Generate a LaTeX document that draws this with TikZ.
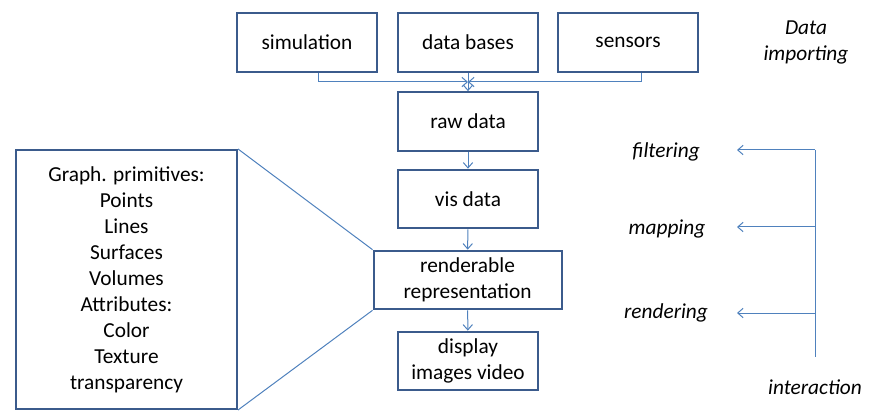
\documentclass[tikz,border=0pt]{standalone}
\usepackage{fontspec}
\setmainfont{Carlito}
\usetikzlibrary{arrows.meta,positioning,calc}

\definecolor{boxblue}{HTML}{3B5B8C}
\definecolor{lineblue}{HTML}{4F81BD}

\begin{document}
\begin{tikzpicture}[
  x=0.75pt, y=-0.75pt,
  font=\fontsize{16}{19.5}\selectfont,
  box/.style={draw=boxblue, line width=1.5pt, minimum width=105pt,
              minimum height=44pt, align=center, inner sep=2pt},
  arr/.style={-{Straight Barb[length=4pt,width=7pt]}, draw=lineblue, line width=0.75pt},
  lnk/.style={draw=lineblue, line width=0.75pt},
  lbl/.style={font=\fontsize{16}{19.5}\selectfont\itshape, align=center},
]
  \useasboundingbox (0,0) rectangle (888,413);

  % sources
  \node[box] (sim) at (307,42.5) {simulation};
  \node[box] (db)  at (468,42.5) {data bases};
  \node[box] (sen) at (628,42.5) {sensors};

  % pipeline
  \node[box] (raw) at (468,121.5) {raw data};
  \node[box] (vis) at (468,199) {vis data};
  \node[box, minimum width=141pt] (rr) at (467.5,280) {renderable\\representation};
  \node[box] (disp) at (468,361) {display\\images video};

  % primitives
  \node[box, minimum width=165.75pt, minimum height=194.25pt] (prim) at (126.5,279.5)
    {Graph. primitives:\\Points\\Lines\\Surfaces\\Volumes\\Attributes:\\Color\\Texture\\transparency};

  \coordinate (j) at (468,82);
  \draw[arr] ([xshift=8.25pt]sim.south) |- (j);
  \draw[arr] ([xshift=9.75pt]sen.south) |- (j);
  \draw[arr] (db.south) -- (raw.north);
  \draw[arr] (raw) -- (vis);
  \draw[arr] (vis) -- (rr);
  \draw[arr] (rr) -- (disp);
  \draw[lnk] (prim.north east) -- (rr.north west);
  \draw[lnk] (prim.south east) -- (rr.south west);

  % labels
  \node[lbl] (imp)  at (806,42) {Data\\importing};
  \node[lbl] (filt) at (666,152) {filtering};
  \node[lbl] (mapp) at (667,229) {mapping};
  \node[lbl] (rend) at (666,313) {rendering};
  \node[lbl] (inter) at (815,387) {interaction};

  % interaction
  \coordinate (itop) at (815,150);
  \coordinate (ibot) at (815,357);
  \coordinate (f) at (737,150);
  \coordinate (m) at (737,227);
  \coordinate (r) at (737,313);
  \draw[lnk] (itop) -- (ibot);
  \draw[arr] (itop) -- (f);
  \draw[arr] (itop |- m) -- (m);
  \draw[arr] (itop |- r) -- (r);
\end{tikzpicture}
\end{document}
